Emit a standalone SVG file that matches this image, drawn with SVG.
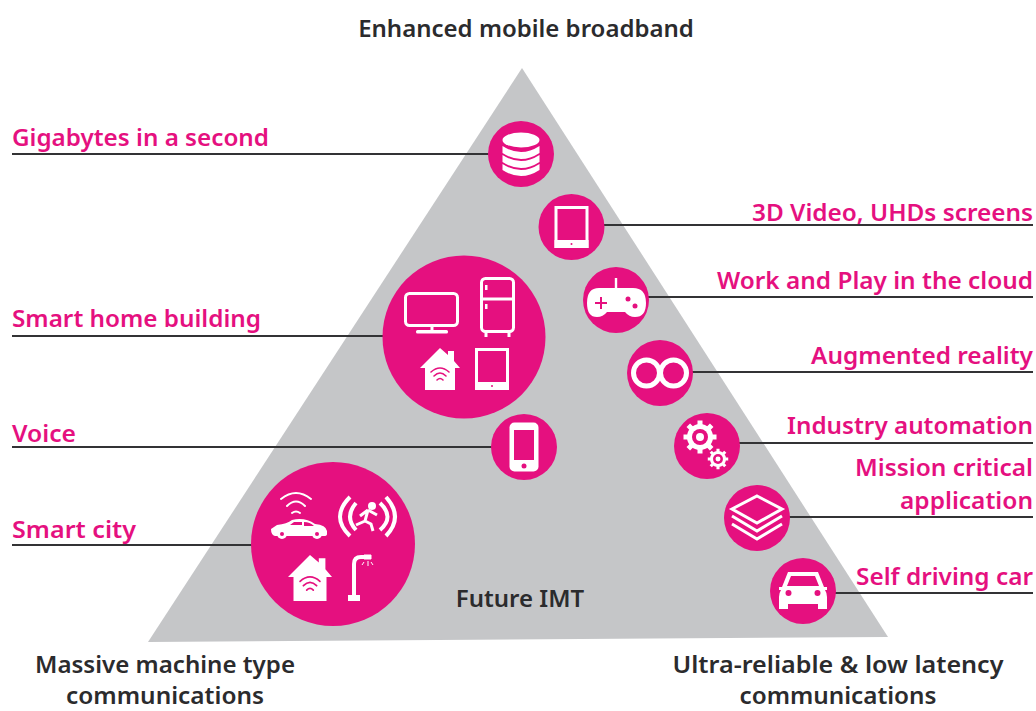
<svg xmlns="http://www.w3.org/2000/svg" width="1036" height="711" viewBox="0 0 1036 711">
<style>
text{font-family:"Noto Sans","Open Sans","Liberation Sans",sans-serif;font-weight:600;font-size:24px}
.p{fill:#e5107f}.k{fill:#2b2b2d}.e{text-anchor:end}.m{text-anchor:middle}
.b{font-size:23px}
.c{fill:#e5107f}
.l{stroke:#333335;stroke-width:2;fill:none}
.w{fill:#fff}.s{fill:none;stroke:#fff;stroke-width:3}.t{fill:none;stroke:#fff;stroke-width:2;stroke-linecap:round}
.pk{fill:#e5107f}
</style>
<defs>
<g id="tablet"><rect x="-15.500" y="-19.500" width="31" height="39" fill="none" stroke="#fff" stroke-width="3"/><rect x="-17" y="13" width="34" height="8" fill="#fff"/><circle cy="17" r="1" fill="#e5107f"/></g>
<g id="house"><path d="M0-21L8-14V-18H14V-8L20 -1H15V21H-15V-1H-20Z" fill="#fff"/><path d="M-9 3Q0-5 9 3M-6 7Q0 1 6 7M-3 11Q0 8 3 11" fill="none" stroke="#e5107f" stroke-width="1.600" stroke-linecap="round"/></g>
<g id="gear"><g stroke="#fff" stroke-width="5"><path d="M0-16.500V16.500M-16.500 0H16.500M-11.700-11.700 11.700 11.700M-11.700 11.700 11.700-11.700"/></g><circle r="13" fill="#fff"/><circle r="8" fill="#e5107f"/><circle r="4" fill="#fff"/></g>
</defs>
<path id="triangle" d="M522 68L888 637L148 642Z" fill="#c5c6c8"/>
<g id="connectors">
<path class="l" d="M12 154H490"/>
<path class="l" d="M603 225H1033"/>
<path class="l" d="M648 297H1033"/>
<path class="l" d="M692 372H1033"/>
<path class="l" d="M739 443H1033"/>
<path class="l" d="M789 517H1033"/>
<path class="l" d="M835 593H1033"/>
<path class="l" d="M12 336H384"/>
<path class="l" d="M12 447H492"/>
<path class="l" d="M12 545H253"/>
</g>
<g id="labels">
<text class="k m" x="526" y="37">Enhanced mobile broadband</text>
<text class="p" x="12" y="146" textLength="257" lengthAdjust="spacingAndGlyphs">Gigabytes in a second</text>
<text class="p" x="12" y="327" textLength="249" lengthAdjust="spacingAndGlyphs">Smart home building</text>
<text class="p" x="12" y="442" textLength="64" lengthAdjust="spacingAndGlyphs">Voice</text>
<text class="p" x="12" y="538" textLength="124" lengthAdjust="spacingAndGlyphs">Smart city</text>
<text class="p e" x="1033" y="221" textLength="281" lengthAdjust="spacingAndGlyphs">3D Video, UHDs screens</text>
<text class="p e" x="1033" y="289" textLength="316" lengthAdjust="spacingAndGlyphs">Work and Play in the cloud</text>
<text class="p e" x="1033" y="364" textLength="222" lengthAdjust="spacingAndGlyphs">Augmented reality</text>
<text class="p e" x="1033" y="434" textLength="246" lengthAdjust="spacingAndGlyphs">Industry automation</text>
<text class="p e" x="1033" y="476" textLength="178" lengthAdjust="spacingAndGlyphs">Mission critical</text>
<text class="p e" x="1033" y="509" textLength="133" lengthAdjust="spacingAndGlyphs">application</text>
<text class="p e" x="1033" y="585" textLength="177" lengthAdjust="spacingAndGlyphs">Self driving car</text>
<text class="k m" x="520" y="607">Future IMT</text>
<text class="k m b" x="165" y="673" textLength="260" lengthAdjust="spacingAndGlyphs">Massive machine type</text>
<text class="k m b" x="165" y="704" textLength="198" lengthAdjust="spacingAndGlyphs">communications</text>
<text class="k m b" x="838" y="673" textLength="331" lengthAdjust="spacingAndGlyphs">Ultra-reliable &amp; low latency</text>
<text class="k m b" x="838" y="704" textLength="197" lengthAdjust="spacingAndGlyphs">communications</text>
</g>
<g id="node-data" transform="translate(521 154)"><circle class="c" r="33"/>
<ellipse class="w" cy="-14" rx="18.500" ry="7.500"/>
<path class="w" d="M-18.500-8Q0 4 18.500-8V-1Q0 11-18.500-1Z"/>
<path class="w" d="M-18.500 1Q0 13 18.500 1V8Q0 20-18.500 8Z"/>
<path class="w" d="M-18.500 10Q0 22 18.500 10V16Q0 28-18.500 16Z"/></g>
<g id="node-tablet" transform="translate(571.500 227)"><circle class="c" r="33"/><use href="#tablet"/></g>
<g id="node-gamepad" transform="translate(616 300)"><circle class="c" r="33"/>
<path class="w" d="M-17-12H17Q30-12 30 3Q30 17 19 17Q13 17 9 12H-9Q-13 17-19 17Q-29 17-29 3Q-29-12-17-12Z"/><rect class="w" x="-1.200" y="-22" width="2.400" height="11"/>
<path d="M-21 3H-9M-15-3V9" fill="none" stroke="#e5107f" stroke-width="2"/><circle class="pk" cx="12" cy="-1" r="2.500"/><circle class="pk" cx="19" cy="6" r="2.500"/></g>
<g id="node-infinity" transform="translate(660 373)"><circle class="c" r="33"/><circle cx="-13.500" r="13" fill="none" stroke="#fff" stroke-width="5"/><circle cx="13.500" r="13" fill="none" stroke="#fff" stroke-width="5"/></g>
<g id="node-gears" transform="translate(707 446)"><circle class="c" r="33"/><use href="#gear" transform="translate(-7 -9)"/><use href="#gear" transform="translate(11 13) scale(.62)"/></g>
<g id="node-layers" transform="translate(757 518)"><circle class="c" r="33"/>
<path d="M0-22L25-9 0 5-25-9Z" fill="none" stroke="#fff" stroke-width="3"/><path d="M-25-2L0 13 25-2" fill="none" stroke="#fff" stroke-width="3"/><path d="M-25 6L0 21 25 6" fill="none" stroke="#fff" stroke-width="3"/></g>
<g id="node-car" transform="translate(803 591)"><circle class="c" r="33"/>
<path class="w" d="M-15-19H15L21-4H24V-1H22Q24 2 24 6V18H15V13H-15V18H-24V6Q-24 2-22-1H-24V-4H-21Z"/><path class="pk" d="M-12-15H12L16-5H-16Z"/><circle class="pk" cx="-14.500" cy="2" r="3"/><circle class="pk" cx="14.500" cy="2" r="3"/></g>
<g id="node-home" transform="translate(464 337)"><circle class="c" r="81.500"/>
<rect x="-58.500" y="-43.500" width="52" height="32" rx="4" fill="none" stroke="#fff" stroke-width="3"/><path d="M-32-11V-5" stroke="#fff" stroke-width="3"/><rect class="w" x="-48" y="-7" width="32" height="3.500" rx="1.500"/>
<rect x="17.500" y="-58.500" width="32" height="53" rx="4" fill="none" stroke="#fff" stroke-width="3"/><path d="M17-38H50M22-5V0M45-5V0" stroke="#fff" stroke-width="3"/><rect class="w" x="21" y="-52" width="2.500" height="5"/><rect class="w" x="21" y="-33" width="2.500" height="5"/>
<use href="#house" transform="translate(-24 32)"/><use href="#tablet" transform="translate(28 32)"/></g>
<g id="node-phone" transform="translate(524 447)"><circle class="c" r="33"/><rect class="w" x="-14.500" y="-24.500" width="29" height="49" rx="5"/><rect class="pk" x="-10" y="-17" width="20" height="30"/><circle class="pk" cy="19" r="2.500"/></g>
<g id="node-city" transform="translate(333 544)"><circle class="c" r="82"/>
<path class="t" d="M-52-45Q-37-57-22-45M-46-38Q-37-47-28-38M-41-31Q-37-34-33-31"/>
<path class="w" d="M-62-15L-56-19Q-46-20-41-24Q-28-27-18-20Q-7-19-6-13V-10Q-6-8-9-8H-58Q-62-9-62-15Z"/><path class="pk" d="M-39-22H-31V-19H-43ZM-29-22Q-23-22-19-18H-29Z"/><circle class="w" cx="-51" cy="-10" r="5"/><circle class="pk" cx="-51" cy="-10" r="2"/><circle class="w" cx="-16" cy="-10" r="5"/><circle class="pk" cx="-16" cy="-10" r="2"/>
<path d="M17-47Q-3-27 17-8M23-41Q11-27 23-14" fill="none" stroke="#fff" stroke-width="4"/><path d="M53-47Q71-27 53-8M47-41Q62-27 47-14" fill="none" stroke="#fff" stroke-width="4"/>
<circle class="w" cx="39" cy="-38" r="4"/><path d="M35-34L27-28M35-34L32-23L23-19M32-23L38-20L40-13M35-34L44-29" fill="none" stroke="#fff" stroke-width="3"/>
<use href="#house" transform="translate(-23 34) scale(1.100)"/>
<path d="M21 52V20Q21 13 28 13H36" fill="none" stroke="#fff" stroke-width="4"/><rect class="w" x="15" y="51" width="12" height="6"/><path d="M31 11H38V15H31ZM31 18L29 21M35 17V22M38 18L40 21" fill="#fff" stroke="#fff" stroke-width="1"/></g>
</svg>
